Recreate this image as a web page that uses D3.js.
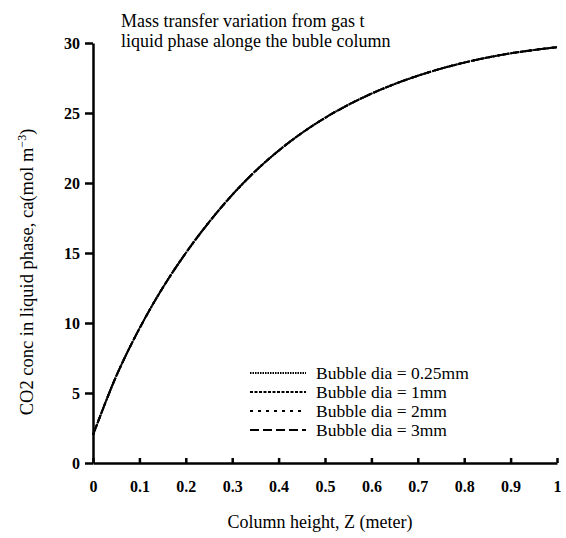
<!DOCTYPE html>
<html>
<head>
<meta charset="utf-8">
<script src="https://cdn.jsdelivr.net/npm/d3@7"></script>
<style>
	body { margin: 0; background: #fff; }
	text { font-family: "Liberation Serif", "Times New Roman", serif; fill: #000; }
</style>
</head>
<body>
<div id="chart"></div>
<script>
// Column height Z (meter)
const heights = [0, 0.05, 0.1, 0.15, 0.2, 0.25, 0.3, 0.35, 0.4, 0.45, 0.5, 0.55, 0.6, 0.65, 0.7, 0.75, 0.8, 0.85, 0.9, 0.95, 1.0];
// CO2 conc in liquid phase for each bubble diameter (the four curves overlap in the picture)
const conc025 = [2.0, 6.2, 9.6, 12.5, 15.0, 17.2, 19.15, 20.85, 22.31, 23.57, 24.65, 25.58, 26.38, 27.07, 27.66, 28.17, 28.6, 28.96, 29.26, 29.5, 29.7];
const conc1 = [2.0, 6.2, 9.6, 12.5, 15.0, 17.2, 19.15, 20.85, 22.31, 23.57, 24.65, 25.58, 26.38, 27.07, 27.66, 28.17, 28.6, 28.96, 29.26, 29.5, 29.7];
const conc2 = [2.0, 6.2, 9.6, 12.5, 15.0, 17.2, 19.15, 20.85, 22.31, 23.57, 24.65, 25.58, 26.38, 27.07, 27.66, 28.17, 28.6, 28.96, 29.26, 29.5, 29.7];
const conc3 = [2.0, 6.2, 9.6, 12.5, 15.0, 17.2, 19.15, 20.85, 22.31, 23.57, 24.65, 25.58, 26.38, 27.07, 27.66, 28.17, 28.6, 28.96, 29.26, 29.5, 29.7];

const seriesNames = ["Bubble dia = 0.25mm", "Bubble dia = 1mm", "Bubble dia = 2mm", "Bubble dia = 3mm"];
const seriesValues = [conc025, conc1, conc2, conc3];
const dashes = ["1.5,1", "3,1.5", "3,5", "9,4"];

const xTicks = [0, 0.1, 0.2, 0.3, 0.4, 0.5, 0.6, 0.7, 0.8, 0.9, 1];
const yTicks = [0, 5, 10, 15, 20, 25, 30];

const W = 566, H = 538;
const margin = {top: 43, right: 9, bottom: 75, left: 93};
const width = W - margin.left - margin.right;
const height = H - margin.top - margin.bottom;

const svg = d3.select("#chart")
	.append("svg")
		.attr("width", W)
		.attr("height", H);

const g = svg.append("g")
	.attr("transform", `translate(${margin.left}, ${margin.top})`);

const x = d3.scaleLinear().domain([0, 1]).range([0, width]);
const y = d3.scaleLinear().domain([0, 30]).range([height, 0]);

// x axis, ticks pointing up
const xAxis = g.append("g")
	.attr("transform", `translate(0, ${height})`)
	.call(d3.axisBottom(x).tickValues(xTicks).tickSize(-5).tickSizeOuter(0)
		.tickFormat(d => d === 0 || d === 1 ? d3.format("d")(d) : d3.format(".1f")(d)));
xAxis.select(".domain").attr("stroke-width", 2.5);
xAxis.selectAll(".tick line").attr("stroke-width", 2.5);
xAxis.selectAll(".tick text")
	.attr("y", 18)
	.attr("font-size", 16)
	.attr("font-weight", "bold");

// y axis
const yAxis = g.append("g")
	.call(d3.axisLeft(y).tickValues(yTicks).tickSize(8).tickSizeOuter(0).tickPadding(5));
yAxis.select(".domain").attr("stroke-width", 2.5);
yAxis.selectAll(".tick line").attr("stroke-width", 2.5);
yAxis.selectAll(".tick text")
	.attr("font-size", 16)
	.attr("font-weight", "bold");

// curves
const line = d3.line()
	.x(d => x(d[0]))
	.y(d => y(d[1]))
	.curve(d3.curveCatmullRom);

seriesValues.forEach((vals, i) => {
	g.append("path")
		.datum(heights.map((h, j) => [h, vals[j]]))
		.attr("fill", "none")
		.attr("stroke", "#000")
		.attr("stroke-width", 2)
		.attr("stroke-dasharray", dashes[i])
		.attr("d", line);
});

// legend
const legend = svg.append("g")
	.attr("transform", "translate(250, 373)");
seriesNames.forEach((name, i) => {
	const row = legend.append("g")
		.attr("transform", `translate(0, ${i * 19})`);
	row.append("line")
		.attr("x1", 0)
		.attr("x2", 56)
		.attr("y1", 0)
		.attr("y2", 0)
		.attr("stroke", "#000")
		.attr("stroke-width", 2)
		.attr("stroke-dasharray", dashes[i]);
	row.append("text")
		.attr("x", 66)
		.attr("y", 5.5)
		.attr("font-size", 17.5)
		.text(name);
});

// title
const title = svg.append("text")
	.attr("x", 121)
	.attr("y", 27)
	.attr("font-size", 18);
title.append("tspan").attr("x", 121).text("Mass transfer variation from gas t");
title.append("tspan").attr("x", 121).attr("dy", 20).text("liquid phase alonge the buble column");

// x axis label
svg.append("text")
	.attr("x", 320)
	.attr("y", 528)
	.attr("text-anchor", "middle")
	.attr("font-size", 18)
	.text("Column height, Z (meter)");

// y axis label
const yLabel = svg.append("text")
	.attr("transform", "translate(33, 272) rotate(-90)")
	.attr("text-anchor", "middle")
	.attr("font-size", 18.5);
yLabel.append("tspan").text("CO2 conc in liquid phase, ca(mol m");
yLabel.append("tspan").attr("dy", -7).attr("font-size", 12).text("−3");
yLabel.append("tspan").attr("dy", 7).text(")");
</script>
</body>
</html>
